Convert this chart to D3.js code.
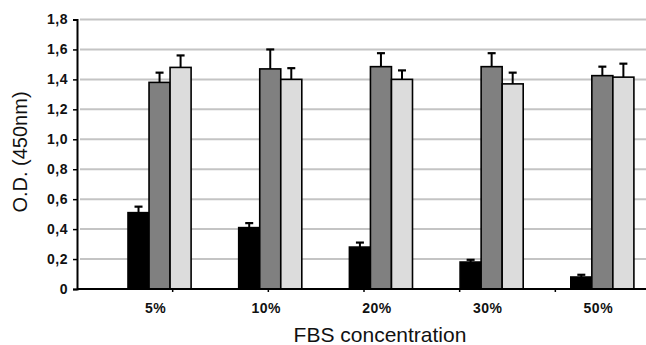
<!DOCTYPE html>
<html>
<head>
  <meta charset="utf-8">
  <title>FBS concentration</title>
  <script src="https://d3js.org/d3.v7.min.js"></script>
  <style>
    body { margin: 0; background: #fff; }
    svg { display: block; font-family: "Liberation Sans", Arial, sans-serif; }
    .y-axis text, .x-axis text { font-weight: 700; fill: #111; }
  </style>
</head>
<body>
  <div id="chart"></div>
  <script>
    // data
    const categories = ['5%', '10%', '20%', '30%', '50%'];
    const seriesNames = ['dark', 'mid', 'light'];
    const darkValues  = [0.51, 0.41, 0.28, 0.18, 0.08];
    const darkErrors  = [0.04, 0.03, 0.03, 0.015, 0.015];
    const midValues   = [1.38, 1.47, 1.485, 1.485, 1.425];
    const midErrors   = [0.065, 0.13, 0.09, 0.09, 0.06];
    const lightValues = [1.48, 1.40, 1.40, 1.37, 1.415];
    const lightErrors = [0.08, 0.075, 0.06, 0.075, 0.09];
    const yTicks = [0, 0.2, 0.4, 0.6, 0.8, 1.0, 1.2, 1.4, 1.6, 1.8];

    const colors = { dark: '#000000', mid: '#808080', light: '#dcdcdc' };
    const width = 646, height = 345;
    const axisLeft = 77, plotRight = 646;
    const plotTop = 19.5, plotBottom = 289;

    const rows = categories.map((c, i) => ({
      cat: c,
      bars: [
        { key: 'dark', v: darkValues[i], e: darkErrors[i] },
        { key: 'mid', v: midValues[i], e: midErrors[i] },
        { key: 'light', v: lightValues[i], e: lightErrors[i] }
      ]
    }));

    const svg = d3.select('#chart').append('svg')
      .attr('width', width)
      .attr('height', height);

    const y = d3.scaleLinear().domain([0, 1.8]).range([plotBottom, plotTop]);

    const x = d3.scaleBand()
      .domain(categories)
      .range([104.2, 657.7])
      .paddingInner(0.43)
      .paddingOuter(0.215);

    const xs = d3.scaleBand()
      .domain(seriesNames)
      .range([0, x.bandwidth()]);

    // grid lines
    svg.append('g')
      .selectAll('line')
      .data(yTicks.slice(1))
      .enter()
      .append('line')
      .attr('x1', axisLeft + 3)
      .attr('x2', plotRight)
      .attr('y1', d => y(d))
      .attr('y2', d => y(d))
      .attr('stroke', '#c4c4c4')
      .attr('stroke-width', 2);

    // bars
    const groups = svg.append('g')
      .selectAll('g')
      .data(rows)
      .enter()
      .append('g')
      .attr('transform', d => `translate(${x(d.cat)},0)`);

    groups.selectAll('rect')
      .data(d => d.bars)
      .enter()
      .append('rect')
      .attr('x', d => xs(d.key))
      .attr('y', d => y(d.v))
      .attr('width', xs.bandwidth())
      .attr('height', d => y(0) - y(d.v))
      .attr('fill', d => colors[d.key])
      .attr('stroke', '#000')
      .attr('stroke-width', 1.6);

    // error bars (upper only)
    const err = groups.selectAll('g.err')
      .data(d => d.bars)
      .enter()
      .append('g')
      .attr('class', 'err');

    err.append('line')
      .attr('x1', d => xs(d.key) + xs.bandwidth() / 2)
      .attr('x2', d => xs(d.key) + xs.bandwidth() / 2)
      .attr('y1', d => y(d.v))
      .attr('y2', d => y(d.v + d.e))
      .attr('stroke', '#000')
      .attr('stroke-width', 2);

    err.append('line')
      .attr('x1', d => xs(d.key) + xs.bandwidth() / 2 - 4)
      .attr('x2', d => xs(d.key) + xs.bandwidth() / 2 + 4)
      .attr('y1', d => y(d.v + d.e))
      .attr('y2', d => y(d.v + d.e))
      .attr('stroke', '#000')
      .attr('stroke-width', 2.2);

    // small tick marks under the x axis
    const tickBand = d3.scaleBand().domain(d3.range(6)).range([axisLeft, 651]);
    svg.append('g')
      .selectAll('line')
      .data(d3.range(1, 6))
      .enter()
      .append('line')
      .attr('x1', d => tickBand(d))
      .attr('x2', d => tickBand(d))
      .attr('y1', plotBottom)
      .attr('y2', plotBottom + 3)
      .attr('stroke', '#000')
      .attr('stroke-width', 1.5);

    // x axis line
    svg.append('line')
      .attr('x1', axisLeft)
      .attr('x2', plotRight)
      .attr('y1', plotBottom)
      .attr('y2', plotBottom)
      .attr('stroke', '#000')
      .attr('stroke-width', 2);

    // y axis
    const yAxis = d3.axisLeft(y)
      .tickValues(yTicks)
      .tickSize(4)
      .tickPadding(5)
      .tickFormat(d => d === 0 ? '0' : d3.format('.1f')(d).replace('.', ','));

    const yg = svg.append('g')
      .attr('class', 'y-axis')
      .attr('transform', `translate(${axisLeft},0)`)
      .call(yAxis);
    yg.select('.domain').attr('stroke', '#000').attr('stroke-width', 2);
    yg.selectAll('.tick line').attr('stroke', '#000').attr('stroke-width', 1.5);
    yg.selectAll('text').style('font-size', '14px').style('letter-spacing', '0.5px');

    // x category labels
    svg.append('g')
      .attr('class', 'x-axis')
      .selectAll('text')
      .data(categories)
      .enter()
      .append('text')
      .attr('x', d => x(d) + x.bandwidth() / 2 - 4)
      .attr('y', 313)
      .attr('text-anchor', 'middle')
      .style('font-size', '14px')
      .style('letter-spacing', '0.5px')
      .text(d => d);

    // axis titles
    svg.append('text')
      .attr('x', 380)
      .attr('y', 342)
      .attr('text-anchor', 'middle')
      .style('font-size', '21px')
      .attr('fill', '#111')
      .text('FBS concentration');

    svg.append('text')
      .attr('transform', 'translate(27,152) rotate(-90)')
      .attr('text-anchor', 'middle')
      .style('font-size', '20px')
      .attr('fill', '#111')
      .text('O.D. (450nm)');
  </script>
</body>
</html>
